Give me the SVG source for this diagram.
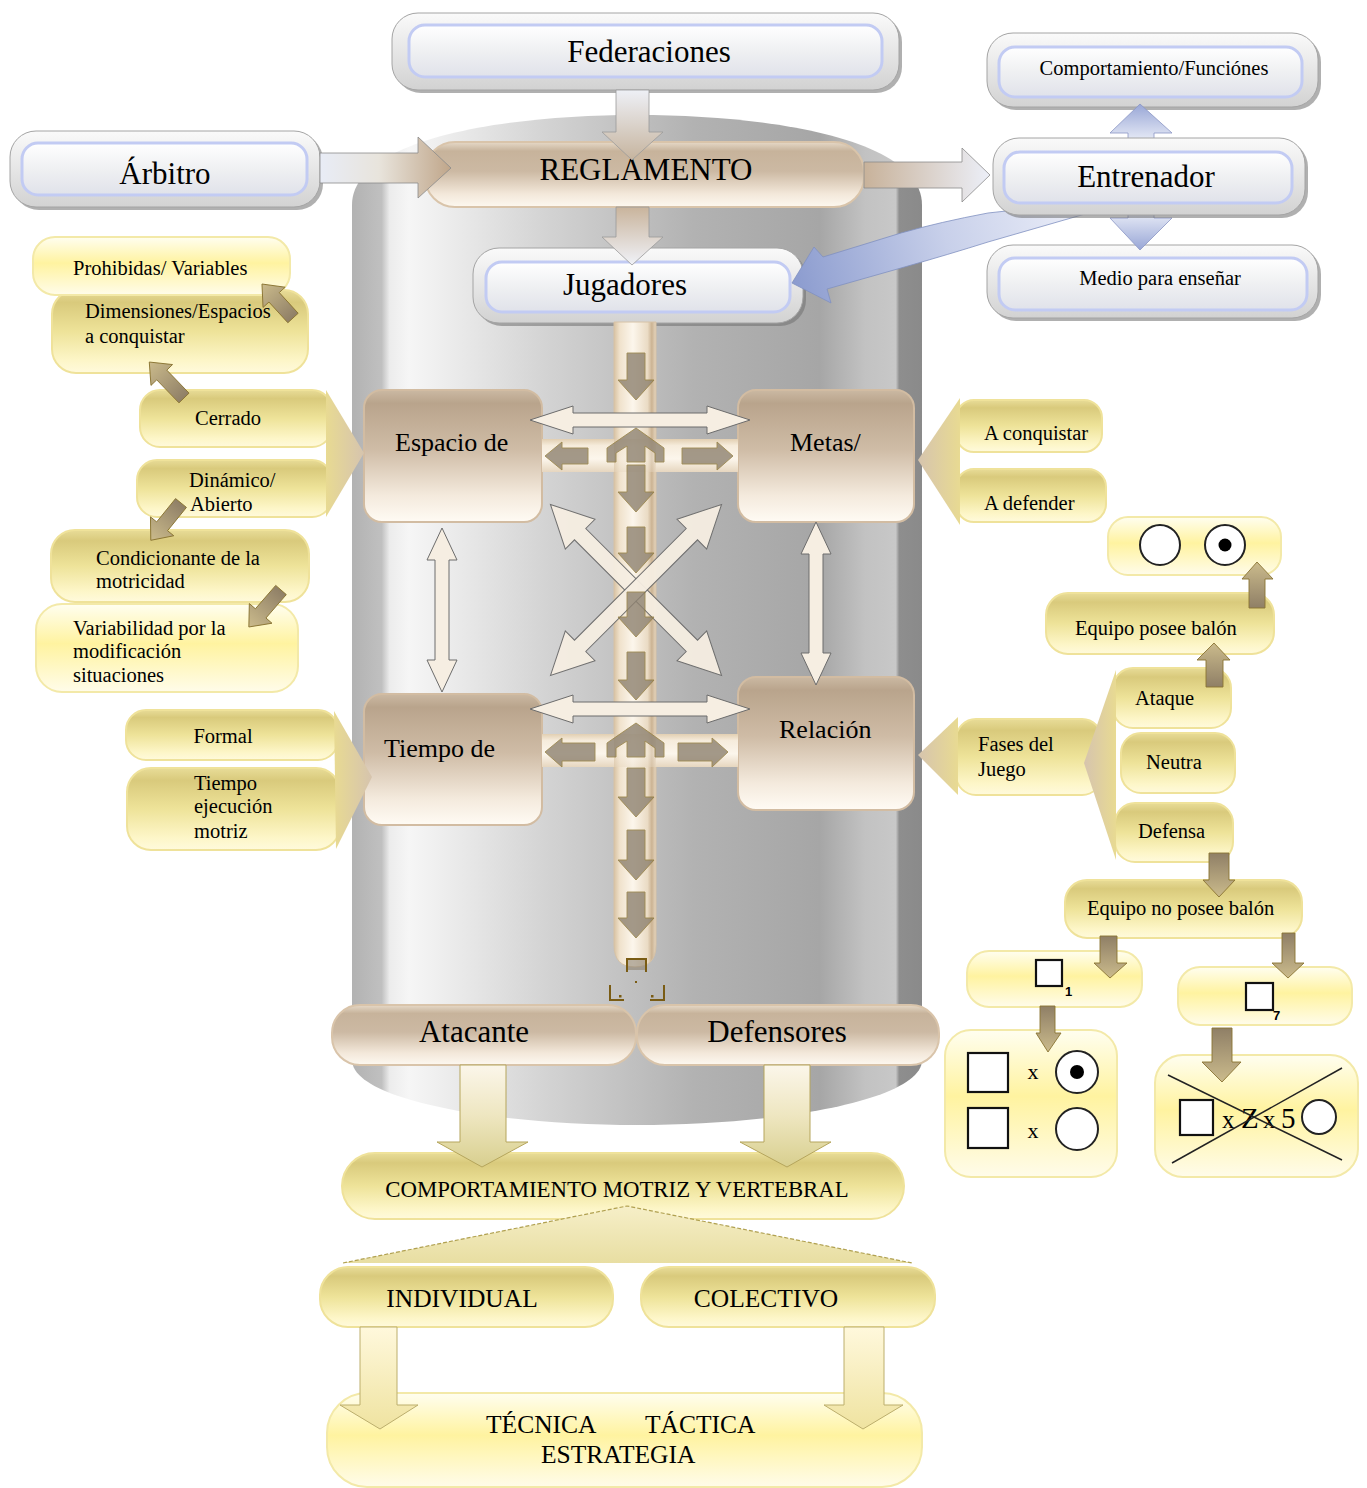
<svg xmlns="http://www.w3.org/2000/svg" width="1367" height="1488" viewBox="0 0 1367 1488">
<defs>
<style>
.tx{font-family:"Liberation Serif","Times New Roman",serif;fill:#000}
.t31{font-size:31px}.t26{font-size:26px}.t25{font-size:25.5px}.t23{font-size:22.8px}.t20{font-size:20.5px}
.mid{text-anchor:middle}
.wsh{fill:#707070;opacity:0.55}
.wo{fill:url(#gWo);stroke:#a4a4a4;stroke-width:1}
.wi{fill:url(#gWi);stroke:#c2cbf3;stroke-width:3}
.tan{fill:url(#gT);stroke:#d9c4aa;stroke-width:2}
.can{fill:url(#gC);stroke:#d2bca2;stroke-width:2}
.yl{fill:url(#gY);stroke:#efe29a;stroke-width:2}
.yl2{fill:url(#gY2);stroke:#f3e9a8;stroke-width:2}
.br{stroke:#8a7432;stroke-width:0.9}
.brt{fill:#8e8270;stroke:#8a7432;stroke-width:0.9;opacity:0.8}
.wa{fill:#f6eee2;stroke:#6c6c6c;stroke-width:1}
.sq{fill:#fff;stroke:#111;stroke-width:2.2}
.ci{fill:#fff;stroke:#222;stroke-width:2}
.sub{font-family:"Liberation Sans",Arial,sans-serif;font-size:13px;font-weight:bold;fill:#000}
</style>
<linearGradient id="gCyl" x1="0" y1="0" x2="1" y2="0">
<stop offset="0" stop-color="#b2b2b2"/><stop offset="0.052" stop-color="#c0c0c0"/><stop offset="0.066" stop-color="#ececec"/>
<stop offset="0.1" stop-color="#f6f6f6"/><stop offset="0.35" stop-color="#d2d2d2"/><stop offset="0.6" stop-color="#b2b2b2"/>
<stop offset="0.82" stop-color="#a6a6a6"/><stop offset="0.9" stop-color="#c2c2c2"/><stop offset="0.954" stop-color="#c8c8c8"/>
<stop offset="0.96" stop-color="#8e8e8e"/><stop offset="1" stop-color="#8a8a8a"/>
</linearGradient>
<linearGradient id="gWo" x1="0" y1="0" x2="0" y2="1"><stop offset="0" stop-color="#fafafa"/><stop offset="1" stop-color="#d2d2d2"/></linearGradient>
<linearGradient id="gWi" x1="0" y1="0" x2="0" y2="1"><stop offset="0" stop-color="#ffffff"/><stop offset="0.5" stop-color="#eff0f2"/><stop offset="1" stop-color="#e0e2ea"/></linearGradient>
<linearGradient id="gT" x1="0" y1="0" x2="0" y2="1"><stop offset="0" stop-color="#e6d9c8"/><stop offset="0.14" stop-color="#c7b39b"/><stop offset="0.45" stop-color="#ccb9a3"/><stop offset="0.8" stop-color="#f3e8da"/><stop offset="1" stop-color="#fdf8f0"/></linearGradient>
<linearGradient id="gC" x1="0" y1="0" x2="0" y2="1"><stop offset="0" stop-color="#cbb9a3"/><stop offset="0.1" stop-color="#b9a48c"/><stop offset="0.45" stop-color="#cfbca6"/><stop offset="0.8" stop-color="#f4eadd"/><stop offset="1" stop-color="#fffbf4"/></linearGradient>
<linearGradient id="gY" x1="0" y1="0" x2="0" y2="1"><stop offset="0" stop-color="#e8dc98"/><stop offset="0.15" stop-color="#d9ca7c"/><stop offset="0.5" stop-color="#eee399"/><stop offset="0.85" stop-color="#fdf6c8"/><stop offset="1" stop-color="#fffadc"/></linearGradient>
<linearGradient id="gY2" x1="0" y1="0" x2="0" y2="1"><stop offset="0" stop-color="#fffef0"/><stop offset="0.45" stop-color="#fff3a0"/><stop offset="1" stop-color="#fffcea"/></linearGradient>
<linearGradient id="gChL" x1="0" y1="0" x2="1" y2="0"><stop offset="0" stop-color="#e8da92"/><stop offset="1" stop-color="#d6c4ae"/></linearGradient>
<linearGradient id="gChR" x1="0" y1="0" x2="1" y2="0"><stop offset="0" stop-color="#d6c4ae"/><stop offset="1" stop-color="#e8da92"/></linearGradient>
<linearGradient id="gBr" x1="0" y1="0" x2="1" y2="0"><stop offset="0" stop-color="#8f7f66"/><stop offset="1" stop-color="#cbbb8c"/></linearGradient>
<linearGradient id="gBrD" x1="0" y1="0" x2="0" y2="1"><stop offset="0" stop-color="#8f7f66"/><stop offset="1" stop-color="#cbbb8c"/></linearGradient>
<linearGradient id="gBrU" x1="0" y1="1" x2="0" y2="0"><stop offset="0" stop-color="#8f7f66"/><stop offset="1" stop-color="#cbbb8c"/></linearGradient>
<linearGradient id="gTube" x1="0" y1="0" x2="1" y2="0"><stop offset="0" stop-color="#d8c2a2"/><stop offset="0.14" stop-color="#f0e2cc"/><stop offset="0.45" stop-color="#fcf6ec"/><stop offset="0.8" stop-color="#eadbc4"/><stop offset="0.9" stop-color="#cbb393"/><stop offset="1" stop-color="#e6d6bf"/></linearGradient>
<linearGradient id="gBar" x1="0" y1="0" x2="0" y2="1"><stop offset="0" stop-color="#e2cfb2"/><stop offset="0.2" stop-color="#f6ecdc"/><stop offset="0.6" stop-color="#fcf6ec"/><stop offset="1" stop-color="#e6d6bf"/></linearGradient>
<linearGradient id="gFR" x1="0" y1="0" x2="0" y2="1"><stop offset="0" stop-color="#eef0f6"/><stop offset="1" stop-color="#c6b49e"/></linearGradient>
<linearGradient id="gRJ" x1="0" y1="0" x2="0" y2="1"><stop offset="0" stop-color="#c9b49c"/><stop offset="1" stop-color="#f0f2f8"/></linearGradient>
<linearGradient id="gAR" x1="0" y1="0" x2="1" y2="0"><stop offset="0" stop-color="#e8ecf6"/><stop offset="0.45" stop-color="#e8e4dc"/><stop offset="1" stop-color="#c0a68a"/></linearGradient>
<linearGradient id="gRE" x1="0" y1="0" x2="1" y2="0"><stop offset="0" stop-color="#c8b29a"/><stop offset="1" stop-color="#eceff8"/></linearGradient>
<linearGradient id="gBU" x1="0" y1="0" x2="0" y2="1"><stop offset="0" stop-color="#98a6d6"/><stop offset="1" stop-color="#e6eaf6"/></linearGradient>
<linearGradient id="gBD" x1="0" y1="0" x2="0" y2="1"><stop offset="0" stop-color="#e6eaf6"/><stop offset="1" stop-color="#98a6d6"/></linearGradient>
<linearGradient id="gBlA" gradientUnits="userSpaceOnUse" x1="1100" y1="205" x2="795" y2="285"><stop offset="0" stop-color="#f0f2fa"/><stop offset="0.5" stop-color="#c8d0ea"/><stop offset="1" stop-color="#8c9ccf"/></linearGradient>
<linearGradient id="gAY" x1="0" y1="0" x2="0" y2="1"><stop offset="0" stop-color="#fbf6ea"/><stop offset="0.5" stop-color="#eee6c0"/><stop offset="1" stop-color="#d8cf8e"/></linearGradient>
<linearGradient id="gAY2" x1="0" y1="0" x2="0" y2="1"><stop offset="0" stop-color="#fff8dc"/><stop offset="1" stop-color="#efe3a0"/></linearGradient>
<linearGradient id="gRoof" x1="0" y1="0" x2="0" y2="1"><stop offset="0" stop-color="#f6efc8"/><stop offset="1" stop-color="#e8dea2"/></linearGradient>
</defs>

<rect width="1367" height="1488" fill="#ffffff"/>
<path id="cylinder" d="M352,205 C352,140 500,115 637,115 C775,115 922,140 922,205 L922,1060 C922,1100 780,1125 637,1125 C495,1125 352,1100 352,1060 Z" fill="url(#gCyl)"/>

<g id="nodes">
<g id="federaciones"><rect class="wsh" x="395" y="16" width="507" height="77" rx="26"/><rect class="wo" x="392" y="13" width="507" height="77" rx="26"/><rect class="wi" x="409" y="25" width="473" height="52" rx="16"/><text class="tx t31 mid" x="649" y="62">Federaciones</text></g>
<g id="arbitro"><rect class="wsh" x="13" y="134" width="310" height="76" rx="26"/><rect class="wo" x="10" y="131" width="310" height="76" rx="26"/><rect class="wi" x="22" y="143" width="285" height="52" rx="16"/><text class="tx t31 mid" x="165" y="184">Árbitro</text></g>
<g id="reglamento"><rect class="tan" x="425" y="142" width="439" height="65" rx="30"/><text class="tx t31 mid" x="646" y="180">REGLAMENTO</text></g>
<g id="comportamiento-funciones"><rect class="wsh" x="990" y="36" width="331" height="74" rx="26"/><rect class="wo" x="987" y="33" width="331" height="74" rx="26"/><rect class="wi" x="999" y="47" width="303" height="50" rx="16"/><text class="tx t20 mid" x="1154" y="75">Comportamiento/Funciónes</text></g>
<g id="medio"><rect class="wsh" x="990" y="248" width="331" height="73" rx="26"/><rect class="wo" x="987" y="245" width="331" height="73" rx="26"/><rect class="wi" x="999" y="258" width="308" height="52" rx="16"/><text class="tx t20 mid" x="1160" y="285">Medio para enseñar</text></g>
<g id="jugadores"><rect class="wsh" x="476" y="251" width="330" height="75" rx="26"/><rect class="wo" x="473" y="248" width="330" height="75" rx="26"/><rect class="wi" x="486" y="262" width="304" height="50" rx="16"/><text class="tx t31 mid" x="625" y="295">Jugadores</text></g>

<g id="espacio"><rect class="can" x="364" y="390" width="178" height="132" rx="18"/><text class="tx t26" x="395" y="451">Espacio de</text></g>
<g id="metas"><rect class="can" x="738" y="390" width="176" height="132" rx="18"/><text class="tx t26" x="790" y="451">Metas/</text></g>
<g id="tiempo"><rect class="can" x="364" y="694" width="178" height="131" rx="18"/><text class="tx t26" x="384" y="757">Tiempo de</text></g>
<g id="relacion"><rect class="can" x="738" y="677" width="176" height="133" rx="18"/><text class="tx t26" x="779" y="738">Relación</text></g>

<g id="dimensiones"><rect class="yl" x="52" y="290" width="256" height="83" rx="24"/><text class="tx t20" x="85" y="318">Dimensiones/Espacios</text><text class="tx t20" x="85" y="343">a conquistar</text></g>
<g id="prohibidas"><rect class="yl2" x="33" y="237" width="257" height="58" rx="22"/><text class="tx t20" x="73" y="275">Prohibidas/ Variables</text></g>
<g id="cerrado"><rect class="yl" x="140" y="390" width="192" height="57" rx="20"/><text class="tx t20 mid" x="228" y="425">Cerrado</text></g>
<g id="dinamico"><rect class="yl" x="137" y="460" width="195" height="57" rx="20"/><text class="tx t20" x="189" y="487">Dinámico/</text><text class="tx t20" x="190" y="511">Abierto</text></g>
<g id="condicionante"><rect class="yl" x="51" y="530" width="258" height="72" rx="24"/><text class="tx t20" x="96" y="565">Condicionante de la</text><text class="tx t20" x="96" y="588">motricidad</text></g>
<g id="variabilidad"><rect class="yl2" x="36" y="604" width="262" height="88" rx="26"/><text class="tx t20" x="73" y="635">Variabilidad por la</text><text class="tx t20" x="73" y="658">modificación</text><text class="tx t20" x="73" y="682">situaciones</text></g>
<g id="formal"><rect class="yl" x="126" y="710" width="212" height="50" rx="20"/><text class="tx t20 mid" x="223" y="743">Formal</text></g>
<g id="tiempo-ejecucion"><rect class="yl" x="127" y="768" width="213" height="82" rx="24"/><text class="tx t20" x="194" y="790">Tiempo</text><text class="tx t20" x="194" y="813">ejecución</text><text class="tx t20" x="194" y="838">motriz</text></g>

<g id="a-conquistar"><rect class="yl" x="956" y="400" width="146" height="52" rx="18"/><text class="tx t20" x="984" y="440">A conquistar</text></g>
<g id="a-defender"><rect class="yl" x="956" y="469" width="150" height="53" rx="18"/><text class="tx t20" x="984" y="510">A defender</text></g>
<g id="balones"><rect class="yl2" x="1108" y="517" width="173" height="58" rx="20"/><circle class="ci" cx="1160" cy="545" r="20"/><circle class="ci" cx="1225" cy="545" r="20"/><circle cx="1225" cy="545" r="6.5" fill="#000"/></g>
<g id="equipo-posee"><rect class="yl" x="1046" y="593" width="228" height="61" rx="22"/><text class="tx t20" x="1075" y="635">Equipo posee balón</text></g>
<g id="fases"><rect class="yl" x="956" y="719" width="146" height="76" rx="20"/><text class="tx t20" x="978" y="751">Fases del</text><text class="tx t20" x="978" y="776">Juego</text></g>
<g id="ataque"><rect class="yl" x="1113" y="668" width="118" height="60" rx="20"/><text class="tx t20" x="1135" y="705">Ataque</text></g>
<g id="neutra"><rect class="yl" x="1121" y="733" width="114" height="60" rx="20"/><text class="tx t20" x="1146" y="769">Neutra</text></g>
<g id="defensa"><rect class="yl" x="1115" y="803" width="118" height="59" rx="20"/><text class="tx t20" x="1138" y="838">Defensa</text></g>
<g id="equipo-no-posee"><rect class="yl" x="1065" y="880" width="237" height="58" rx="22"/><text class="tx t20" x="1087" y="915">Equipo no posee balón</text></g>
<g id="jugador-1"><rect class="yl2" x="967" y="951" width="175" height="56" rx="22"/><rect class="sq" x="1036" y="960" width="26" height="26"/><text class="sub" x="1065" y="996">1</text></g>
<g id="jugador-2"><rect class="yl2" x="1178" y="967" width="174" height="58" rx="22"/><rect class="sq" x="1246" y="983" width="27" height="27"/><text class="sub" x="1273" y="1020">7</text></g>
<g id="marcaje"><rect class="yl2" x="945" y="1030" width="172" height="147" rx="26"/><rect class="sq" x="968" y="1053" width="40" height="39"/><rect class="sq" x="968" y="1108" width="40" height="40"/><text class="tx mid" x="1033" y="1079" font-size="22" fill="#444">x</text><text class="tx mid" x="1033" y="1138" font-size="22" fill="#444">x</text><circle class="ci" cx="1077" cy="1072" r="21"/><circle cx="1077" cy="1072" r="7" fill="#000"/><circle class="ci" cx="1077" cy="1129" r="21"/></g>
<g id="zona"><rect class="yl2" x="1155" y="1055" width="203" height="122" rx="28"/><rect class="sq" x="1180" y="1100" width="33" height="35"/><text class="tx" y="1128" fill="#444"><tspan x="1222" font-size="25">x</tspan><tspan x="1241" font-size="29">Z</tspan><tspan x="1263" font-size="25">x</tspan><tspan x="1281" font-size="29">5</tspan></text><circle class="ci" cx="1319" cy="1117" r="17"/><line x1="1168" y1="1075" x2="1342" y2="1160" stroke="#222" stroke-width="1.5"/><line x1="1172" y1="1163" x2="1342" y2="1068" stroke="#222" stroke-width="1.5"/></g>

<g id="atacante"><rect class="tan" x="332" y="1005" width="304" height="60" rx="28"/><text class="tx t31 mid" x="474" y="1042">Atacante</text></g>
<g id="defensores"><rect class="tan" x="637" y="1005" width="302" height="60" rx="28"/><text class="tx t31 mid" x="777" y="1042">Defensores</text></g>
<g id="comportamiento-motriz"><rect class="yl" x="342" y="1153" width="562" height="66" rx="33"/><text class="tx t23 mid" x="617" y="1197">COMPORTAMIENTO MOTRIZ Y VERTEBRAL</text></g>
<g id="individual"><rect class="yl" x="320" y="1267" width="293" height="60" rx="28"/><text class="tx t25 mid" x="462" y="1307">INDIVIDUAL</text></g>
<g id="colectivo"><rect class="yl" x="641" y="1267" width="294" height="60" rx="28"/><text class="tx t25 mid" x="766" y="1307">COLECTIVO</text></g>
<g id="tecnica"><rect class="yl2" x="327" y="1393" width="595" height="94" rx="40"/><text class="tx t25" x="486" y="1433">TÉCNICA</text><text class="tx t25" x="645" y="1433">TÁCTICA</text><text class="tx t25" x="541" y="1463">ESTRATEGIA</text></g>
</g>

<g id="connectors">
<path d="M614,322 L656,322 L656,945 Q656,967 635,967 Q614,967 614,945 Z" fill="url(#gTube)" stroke="#d6c2a6" stroke-width="1"/>
<rect x="542" y="439" width="196" height="33" fill="url(#gBar)"/>
<rect x="542" y="734" width="196" height="33" fill="url(#gBar)"/>
<rect x="614" y="439" width="42" height="33" fill="url(#gTube)" opacity="0.6"/>
<rect x="614" y="734" width="42" height="33" fill="url(#gTube)" opacity="0.6"/>

<polygon class="wa" points="-121,0 -79,-21 -79,-8 79,-8 79,-21 121,0 79,21 79,8 -79,8 -79,21" transform="translate(636,590) rotate(45)" opacity="0.95"/>
<polygon class="wa" points="-121,0 -79,-21 -79,-8 79,-8 79,-21 121,0 79,21 79,8 -79,8 -79,21" transform="translate(636,590) rotate(-45)" opacity="0.95"/>

<path class="brt" d="M627,353 L627,380 L618,380 L636,400 L654,380 L645,380 L645,353 Z"/>
<path class="brt" d="M627,465 L627,492 L618,492 L636,512 L654,492 L645,492 L645,465 Z"/>
<path class="brt" d="M627,527 L627,553 L618,553 L636,573 L654,553 L645,553 L645,527 Z"/>
<path class="brt" d="M627,592 L627,617 L618,617 L636,637 L654,617 L645,617 L645,592 Z"/>
<path class="brt" d="M627,652 L627,680 L618,680 L636,700 L654,680 L645,680 L645,652 Z"/>
<path class="brt" d="M627,768 L627,797 L618,797 L636,817 L654,797 L645,797 L645,768 Z"/>
<path class="brt" d="M627,830 L627,860 L618,860 L636,880 L654,860 L645,860 L645,830 Z"/>
<path class="brt" d="M627,892 L627,918 L618,918 L636,938 L654,918 L645,918 L645,892 Z"/>
<path class="brt" d="M607,462 L607,448 L636,428 L664,448 L664,462 L655,462 L655,453 L645,446 L645,462 L627,462 L627,446 L616,453 L616,462 Z"/>
<path class="brt" d="M607,757 L607,743 L636,723 L664,743 L664,757 L655,757 L655,748 L645,741 L645,757 L627,757 L627,741 L616,748 L616,757 Z"/>
<path class="brt" d="M588,448 L562,448 L562,442 L545,456 L562,470 L562,464 L588,464 Z"/>
<path class="brt" d="M682,448 L717,448 L717,442 L733,456 L717,470 L717,464 L682,464 Z"/>
<path class="brt" d="M595,743 L562,743 L562,738 L545,752 L562,767 L562,761 L595,761 Z"/>
<path class="brt" d="M678,743 L712,743 L712,738 L728,752 L712,767 L712,761 L678,761 Z"/>

<path class="wa" d="M530,420 L573,406 L573,413 L707,413 L707,406 L750,420 L707,434 L707,427 L573,427 L573,434 Z"/>
<path class="wa" d="M530,709 L573,695 L573,702 L707,702 L707,695 L750,709 L707,723 L707,716 L573,716 L573,723 Z"/>
<path class="wa" d="M442,528 L457,560 L449,560 L449,660 L457,660 L442,692 L427,660 L435,660 L435,560 L427,560 Z"/>
<path class="wa" d="M816,522 L831,554 L823,554 L823,653 L831,653 L816,685 L801,653 L809,653 L809,554 L801,554 Z"/>

<g fill="none" stroke="#7a5c14" stroke-width="2">
<path d="M627,972 L627,959 L646,959 L646,972"/>
<path d="M610,985 L610,1000 L624,1000"/>
<path d="M664,985 L664,1000 L650,1000"/>
</g>
<rect x="628" y="960" width="17" height="10" fill="#8e8270" opacity="0.6"/>
<rect x="619" y="995" width="2.5" height="2.5" fill="#7a5c14"/>
<rect x="651" y="995" width="2.5" height="2.5" fill="#7a5c14"/>
<rect x="635" y="981" width="2" height="2" fill="#7a5c14"/>

<path d="M616,90 L616,132 L602,132 L632,160 L663,132 L649,132 L649,90 Z" fill="url(#gFR)" stroke="#9a9a9a" stroke-width="0.8"/>
<path d="M616,207 L616,237 L602,237 L632,265 L663,237 L649,237 L649,207 Z" fill="url(#gRJ)" stroke="#9a9a9a" stroke-width="0.8"/>
<path d="M320,153 L418,153 L418,137 L451,168 L418,198 L418,183 L320,183 Z" fill="url(#gAR)" stroke="#8a8a8a" stroke-width="0.8"/>
<path d="M864,162 L962,162 L962,148 L990,175 L962,202 L962,188 L864,188 Z" fill="url(#gRE)" stroke="#8a8a8a" stroke-width="0.8"/>
<path d="M1128,140 L1128,133 L1110,133 L1140,104 L1172,133 L1154,133 L1154,140 Z" fill="url(#gBU)" stroke="#8a96c4" stroke-width="0.8"/>
<path d="M1128,213 L1128,218 L1110,218 L1140,250 L1172,218 L1154,218 L1154,213 Z" fill="url(#gBD)" stroke="#8a96c4" stroke-width="0.8"/>
<path d="M1125,198 L988,213 Q940,222 901,233 L823,257 L814,247 L792,283 L831,303 L827,289 L901,268 Q950,254 988,242 L1085,214 Z" fill="url(#gBlA)" stroke="#8090c0" stroke-width="0.8"/>

<polygon points="326,390 364,453 326,517" fill="url(#gChL)"/>
<polygon points="334,711 372,777 336,849" fill="url(#gChL)"/>
<polygon points="960,398 918,460 960,525" fill="url(#gChR)"/>
<polygon points="958,717 918,755 958,795" fill="url(#gChR)"/>
<polygon points="1116,670 1084,763 1116,860" fill="url(#gChR)"/>

<polygon class="br" fill="url(#gBr)" points="0,-7 28,-7 28,-15 46,0 28,15 28,7 0,7" transform="translate(293,318) rotate(-132.4)"/>
<polygon class="br" fill="url(#gBr)" points="0,-7 32,-7 32,-15 50,0 32,15 32,7 0,7" transform="translate(184,398) rotate(-134)"/>
<polygon class="br" fill="url(#gBr)" points="0,-7 30,-7 30,-15 48,0 30,15 30,7 0,7" transform="translate(181,503) rotate(129)"/>
<polygon class="br" fill="url(#gBr)" points="0,-7 31,-7 31,-15 49,0 31,15 31,7 0,7" transform="translate(281,590) rotate(131)"/>

<path class="br" fill="url(#gBrU)" d="M1249,608 L1249,579 L1242,579 L1257,562 L1273,579 L1265,579 L1265,608 Z"/>
<path class="br" fill="url(#gBrU)" d="M1206,687 L1206,660 L1197,660 L1214,643 L1230,660 L1223,660 L1223,687 Z"/>
<path class="br" fill="url(#gBrD)" d="M1209,853 L1209,880 L1203,880 L1219,897 L1235,880 L1229,880 L1229,853 Z"/>
<path class="br" fill="url(#gBrD)" d="M1100,936 L1100,963 L1094,963 L1110,978 L1127,963 L1117,963 L1117,936 Z"/>
<path class="br" fill="url(#gBrD)" d="M1282,933 L1282,963 L1272,963 L1288,978 L1304,963 L1295,963 L1295,933 Z"/>
<path class="br" fill="url(#gBrD)" d="M1040,1006 L1040,1033 L1036,1033 L1048,1052 L1061,1033 L1055,1033 L1055,1006 Z"/>
<path class="br" fill="url(#gBrD)" d="M1212,1028 L1212,1062 L1202,1062 L1222,1082 L1241,1062 L1232,1062 L1232,1028 Z"/>

<path d="M460,1065 L460,1142 L437,1142 L482,1167 L528,1142 L506,1142 L506,1065 Z" fill="url(#gAY)" stroke="#b5a55c" stroke-width="1"/>
<path d="M764,1065 L764,1142 L740,1142 L787,1167 L831,1142 L810,1142 L810,1065 Z" fill="url(#gAY)" stroke="#b5a55c" stroke-width="1"/>
<polygon points="343,1263 627,1206 912,1263" fill="url(#gRoof)"/>
<polyline points="343,1263 627,1206 912,1263" fill="none" stroke="#b0a050" stroke-width="1.2" stroke-dasharray="4 2"/>
<path d="M360,1327 L360,1405 L340,1405 L380,1429 L418,1405 L397,1405 L397,1327 Z" fill="url(#gAY2)" stroke="#bcae6c" stroke-width="1"/>
<path d="M844,1327 L844,1405 L824,1405 L863,1429 L903,1405 L884,1405 L884,1327 Z" fill="url(#gAY2)" stroke="#bcae6c" stroke-width="1"/>
</g>

<g id="entrenador"><rect class="wsh" x="996" y="141" width="312" height="77" rx="26"/><rect class="wo" x="993" y="138" width="312" height="77" rx="26"/><rect class="wi" x="1004" y="152" width="288" height="51" rx="16"/><text class="tx t31 mid" x="1146" y="187">Entrenador</text></g>
</svg>
